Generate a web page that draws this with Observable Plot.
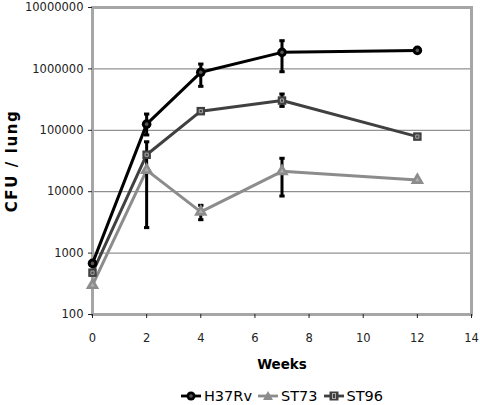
<!DOCTYPE html>
<html><head><meta charset="utf-8">
<script src="https://cdn.jsdelivr.net/npm/d3@7"></script>
<script src="https://cdn.jsdelivr.net/npm/@observablehq/plot@0.6"></script>
<style>
body{margin:0;background:#fff;font-family:"DejaVu Sans",sans-serif;}
#chart svg{display:block;}
#chart g[aria-label="y-axis label"] text{font-weight:bold;font-size:15px;letter-spacing:1.6px;fill:#000;}
#chart g[aria-label="x-axis label"] text{font-weight:bold;font-size:13.5px;fill:#000;}
#legend{display:flex;justify-content:center;align-items:center;width:380px;margin-left:92px;margin-top:6px;height:30px;font-size:14.5px;color:#000;}
#legend .it{display:flex;align-items:center;margin:0 3px;}
#legend svg{margin-right:3px;}
</style></head>
<body>
<div id="chart"></div>
<div id="legend"></div>
<script>
const weeks = [0, 2, 4, 7, 12];
const seriesNames = ["H37Rv", "ST73", "ST96"];
const h37rv = [680, 126000, 880000, 1860000, 2000000];
const st73 = [300, 22500, 4700, 21500, 15500];
const st96 = [480, 40000, 205000, 305000, 79000];
const h37rvLo = [null, 84000, 520000, 900000, null];
const h37rvHi = [null, 184000, 1200000, 2880000, null];
const st73Lo = [null, null, 3500, 8500, null];
const st73Hi = [null, null, 6000, 35000, null];
const st96Lo = [null, 2600, null, 245000, null];
const st96Hi = [null, 65000, null, 390000, null];
const yTicks = [100, 1000, 10000, 100000, 1000000, 10000000];
const xTicks = [0, 2, 4, 6, 8, 10, 12, 14];

const colors = {H37Rv: "#000000", ST73: "#8c8c8c", ST96: "#404040"};
const vals = {H37Rv: h37rv, ST73: st73, ST96: st96};
const los = {H37Rv: h37rvLo, ST73: st73Lo, ST96: st96Lo};
const his = {H37Rv: h37rvHi, ST73: st73Hi, ST96: st96Hi};

const rows = [];
const errs = [];
for (const s of seriesNames) {
  weeks.forEach((w, i) => {
    rows.push({series: s, week: w, value: vals[s][i]});
    if (los[s][i] != null) errs.push({series: s, week: w, lo: los[s][i], hi: his[s][i]});
  });
}
const capTop = errs.map(d => ({week: d.week, v: d.hi}));
const capBot = errs.map(d => ({week: d.week, v: d.lo}));
const hline = {draw(ctx, size) { const w = Math.sqrt(size) / 2; ctx.moveTo(-w, 0); ctx.lineTo(w, 0); }};

const order = ["ST73", "ST96", "H37Rv"];
const marks = [
  Plot.gridY(yTicks, {stroke: "#777", strokeOpacity: 1, strokeWidth: 1}),
  Plot.frame({stroke: "#a6a6a6", strokeWidth: 3}),
  Plot.axisY({ticks: yTicks, tickFormat: d => String(d), tickSize: 4, tickPadding: 5, fontSize: 11.5, color: "#222",
    label: "CFU / lung", labelAnchor: "center", labelArrow: "none", labelOffset: 86}),
  Plot.axisX({ticks: xTicks, tickSize: 4, tickPadding: 15, fontSize: 11.5, color: "#222",
    label: "Weeks", labelAnchor: "center", labelArrow: "none", labelOffset: 54}),
];
for (const s of order) {
  marks.push(Plot.line(rows.filter(d => d.series === s), {x: "week", y: "value", stroke: colors[s], strokeWidth: 3}));
}
marks.push(Plot.ruleX(errs, {x: "week", y1: "lo", y2: "hi", stroke: "#000", strokeWidth: 3}));
marks.push(Plot.dot(capTop, {x: "week", y: "v", symbol: hline, r: 3, stroke: "#000", strokeWidth: 3}));
marks.push(Plot.dot(capBot, {x: "week", y: "v", symbol: hline, r: 3, stroke: "#000", strokeWidth: 3}));
// markers
marks.push(Plot.dot(rows.filter(d => d.series === "ST73"), {x: "week", y: "value", symbol: "triangle", r: 5, fill: colors.ST73}));
marks.push(Plot.dot(rows.filter(d => d.series === "ST73"), {x: "week", y: "value", symbol: "triangle", r: 1.6, fill: "#b0b0b0"}));
marks.push(Plot.dot(rows.filter(d => d.series === "ST96"), {x: "week", y: "value", symbol: "square", r: 4.8, fill: colors.ST96}));
marks.push(Plot.dot(rows.filter(d => d.series === "ST96"), {x: "week", y: "value", symbol: "square", r: 1.8, fill: "none", stroke: "#aaa", strokeWidth: 1}));
marks.push(Plot.dot(rows.filter(d => d.series === "H37Rv"), {x: "week", y: "value", r: 4.8, fill: "#000"}));
marks.push(Plot.dot(rows.filter(d => d.series === "H37Rv"), {x: "week", y: "value", r: 1.8, fill: "#555"}));

const chart = Plot.plot({
  width: 480, height: 375,
  marginLeft: 92, marginRight: 9, marginTop: 7, marginBottom: 61,
  style: {fontFamily: "DejaVu Sans, sans-serif", background: "#fff"},
  x: {domain: [0, 14]},
  y: {type: "log", domain: [100, 10000000]},
  marks
});
document.getElementById("chart").appendChild(chart);

// legend
const leg = document.getElementById("legend");
const shapes = {
  H37Rv: '<line x1="0" y1="8" x2="20" y2="8" stroke="#000" stroke-width="2.8"/><circle cx="10" cy="8" r="4.5" fill="#000"/><circle cx="10" cy="8" r="1.8" fill="#555"/>',
  ST73: '<line x1="0" y1="8" x2="20" y2="8" stroke="#8c8c8c" stroke-width="2.8"/><path d="M10,3 L15,12 L5,12 Z" fill="#8c8c8c"/>',
  ST96: '<line x1="0" y1="8" x2="20" y2="8" stroke="#404040" stroke-width="2.8"/><rect x="5.5" y="3.5" width="9" height="9" fill="#404040"/><rect x="8.5" y="5.5" width="3" height="5" fill="none" stroke="#aaa"/>'
};
for (const s of seriesNames) {
  const it = document.createElement("div");
  it.className = "it";
  it.innerHTML = `<svg width="20" height="16">${shapes[s]}</svg><span>${s}</span>`;
  leg.appendChild(it);
}
</script>
</body></html>
